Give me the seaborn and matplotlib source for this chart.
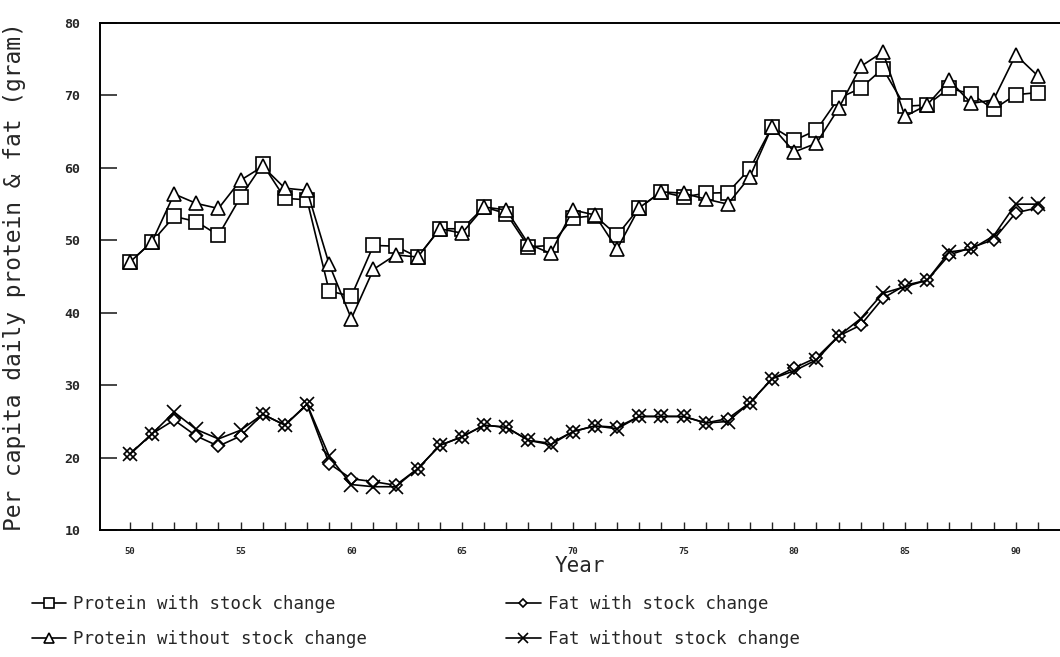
import pandas as pd
import numpy as np
import matplotlib
matplotlib.use("Agg")
import matplotlib.pyplot as plt
import seaborn as sns

# Per capita daily protein & fat, years 1950-1991
years = list(range(50, 92))

protein_with = [47.0, 49.8, 53.3, 52.6, 50.7, 56.0, 60.5, 55.8, 55.6, 43.0,
                42.3, 49.3, 49.2, 47.7, 51.6, 51.6, 54.6, 53.7, 49.1, 49.3,
                53.1, 53.4, 50.7, 54.5, 56.7, 56.0, 56.5, 56.6, 59.9, 65.7,
                63.8, 65.2, 69.6, 71.0, 73.7, 68.5, 68.7, 71.0, 70.2, 68.1,
                70.1, 70.4]
protein_without = [47.0, 49.8, 56.4, 55.1, 54.4, 58.3, 60.2, 57.2, 56.9, 46.7,
                   39.2, 46.0, 48.0, 47.7, 51.6, 51.0, 54.6, 54.2, 49.5, 48.2,
                   54.2, 53.5, 48.8, 54.5, 56.7, 56.5, 55.7, 55.0, 58.8, 65.7,
                   62.2, 63.4, 68.2, 74.0, 76.0, 67.1, 68.7, 72.1, 68.9, 69.4,
                   75.6, 72.7]
fat_with = [20.5, 23.3, 25.2, 23.0, 21.6, 23.0, 26.0, 24.5, 27.3, 19.2,
            17.1, 16.7, 16.2, 18.5, 21.7, 22.9, 24.5, 24.2, 22.4, 22.0,
            23.6, 24.4, 24.2, 25.7, 25.7, 25.7, 24.8, 25.4, 27.6, 30.9,
            32.4, 33.8, 36.8, 38.3, 42.0, 43.8, 44.5, 48.0, 49.0, 50.1,
            53.8, 54.5]
fat_without = [20.5, 23.3, 26.3, 23.9, 22.6, 23.8, 26.0, 24.5, 27.4, 20.2,
               16.3, 16.0, 16.0, 18.5, 21.7, 22.9, 24.5, 24.2, 22.4, 21.8,
               23.6, 24.4, 24.0, 25.7, 25.7, 25.7, 24.8, 25.0, 27.6, 30.9,
               32.0, 33.5, 36.8, 39.2, 42.7, 43.6, 44.5, 48.4, 48.8, 50.6,
               55.0, 55.0]

series_names = ["Protein with stock change", "Protein without stock change",
                "Fat with stock change", "Fat without stock change"]

df = pd.concat([
    pd.DataFrame({"Year": years, "value": protein_with, "series": series_names[0]}),
    pd.DataFrame({"Year": years, "value": protein_without, "series": series_names[1]}),
    pd.DataFrame({"Year": years, "value": fat_with, "series": series_names[2]}),
    pd.DataFrame({"Year": years, "value": fat_without, "series": series_names[3]}),
])

sns.set_theme(style="ticks")
plt.rcParams["font.family"] = ["DejaVu Sans Mono", "DejaVu Sans"]

fig = plt.figure(figsize=(10.6, 6.57), dpi=100)
ax = fig.add_axes([0.0943, 0.193, 0.9057, 0.772])

markers = {series_names[0]: "s", series_names[1]: "^",
           series_names[2]: "D", series_names[3]: "x"}
sizes = {series_names[0]: 9.5, series_names[1]: 9.5,
         series_names[2]: 6.5, series_names[3]: 9.5}

for name in series_names:
    sub = df[df["series"] == name]
    sns.lineplot(data=sub, x="Year", y="value", ax=ax, color="black",
                 marker=markers[name], markersize=sizes[name],
                 markerfacecolor="white", markeredgecolor="black",
                 markeredgewidth=1.2, linewidth=1.2, label=name)

ax.set_xlim(48.65, 92)
ax.set_ylim(10, 80)
ax.set_yticks(range(10, 81, 10))
ax.set_xticks(years)
ax.set_xticklabels([str(y) if y % 5 == 0 else "" for y in years],
                   fontsize=6.5, fontweight="bold")
for lbl in ax.get_yticklabels():
    lbl.set_fontsize(9.5)
    lbl.set_fontweight("bold")
ax.tick_params(axis="y", direction="in", length=12, width=1.2, pad=14)
ax.tick_params(axis="x", direction="in", length=6, width=1.0, pad=12)

for side in ["left", "bottom", "top"]:
    ax.spines[side].set_color("black")
    ax.spines[side].set_linewidth(1.4)
ax.spines["right"].set_visible(False)

ax.set_xlabel("Year", fontsize=15, labelpad=0)
ax.set_ylabel("Per capita daily protein & fat (gram)", fontsize=16.5, labelpad=28)

handles, labels = ax.get_legend_handles_labels()
ax.get_legend().remove()
fig.legend(handles, labels, ncol=2, loc="upper left",
           bbox_to_anchor=(0.015, 0.118), frameon=False, fontsize=12.5,
           handlelength=2.0, handletextpad=0.4, columnspacing=8.0,
           labelspacing=1.0, markerscale=0.7)

fig.savefig("out.png", dpi=100)
